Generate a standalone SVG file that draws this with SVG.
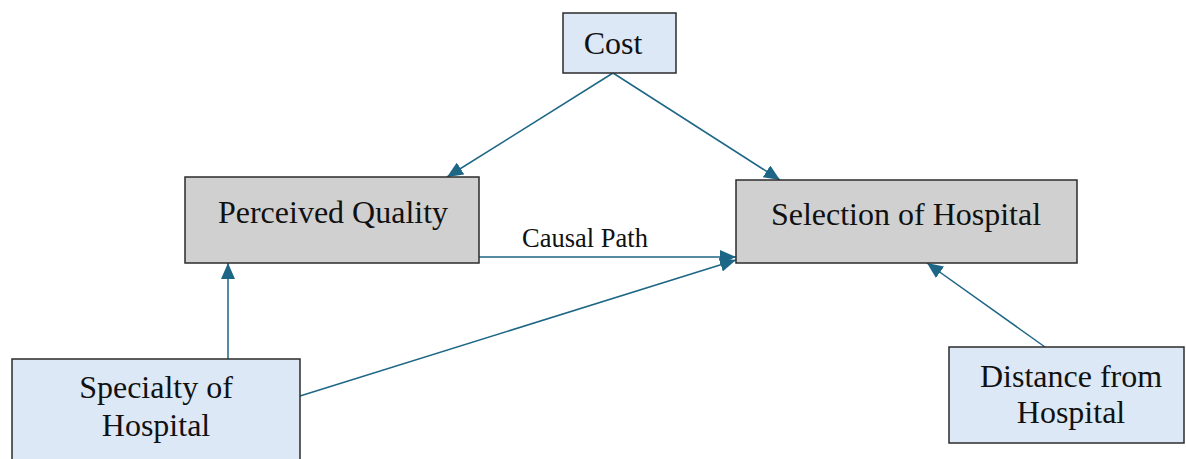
<svg xmlns="http://www.w3.org/2000/svg" width="1186" height="459" viewBox="0 0 1186 459">
  <defs>
    <style>
      .box-blue { fill: #dce8f5; stroke: #2b2b2b; stroke-width: 1.5; }
      .box-gray { fill: #d0d0d0; stroke: #2b2b2b; stroke-width: 1.5; }
      .label { font-family: "Liberation Serif", "Times New Roman", serif; font-size: 32px; fill: #111; text-anchor: middle; }
      .small { font-family: "Liberation Serif", "Times New Roman", serif; font-size: 26.5px; fill: #111; text-anchor: middle; }
      .link { stroke: #1d6686; stroke-width: 1.5; fill: none; marker-end: url(#head); }
    </style>
    <marker id="head" markerUnits="userSpaceOnUse" markerWidth="18" markerHeight="14" refX="16" refY="7" orient="auto">
      <path d="M0,0 L16,7 L0,14 Z" fill="#1d6686"/>
    </marker>
  </defs>

  <rect width="1186" height="459" fill="#ffffff"/>

  <g id="connectors">
    <line class="link" x1="613" y1="73" x2="447" y2="177"/>
    <line class="link" x1="613" y1="73" x2="780" y2="180"/>
    <line class="link" x1="479" y1="257" x2="736" y2="257"/>
    <line class="link" x1="300" y1="396" x2="736" y2="260"/>
    <line class="link" x1="228" y1="359" x2="228" y2="263"/>
    <line class="link" x1="1045" y1="347" x2="927" y2="263"/>
  </g>
  <text class="small" x="585" y="247">Causal Path</text>

  <g id="cost">
    <rect class="box-blue" x="563" y="13" width="113" height="60"/>
    <text class="label" x="613" y="54">Cost</text>
  </g>

  <g id="perceived-quality">
    <rect class="box-gray" x="185" y="177" width="294" height="86"/>
    <text class="label" x="333" y="223">Perceived Quality</text>
  </g>

  <g id="selection-of-hospital">
    <rect class="box-gray" x="736" y="180" width="341" height="83"/>
    <text class="label" x="906" y="225">Selection of Hospital</text>
  </g>

  <g id="specialty-of-hospital">
    <rect class="box-blue" x="12" y="359" width="288" height="110"/>
    <text class="label" x="156" y="398">Specialty of</text>
    <text class="label" x="156" y="436">Hospital</text>
  </g>

  <g id="distance-from-hospital">
    <rect class="box-blue" x="949" y="347" width="235" height="96"/>
    <text class="label" x="1071" y="387">Distance from</text>
    <text class="label" x="1071" y="423">Hospital</text>
  </g>
</svg>
